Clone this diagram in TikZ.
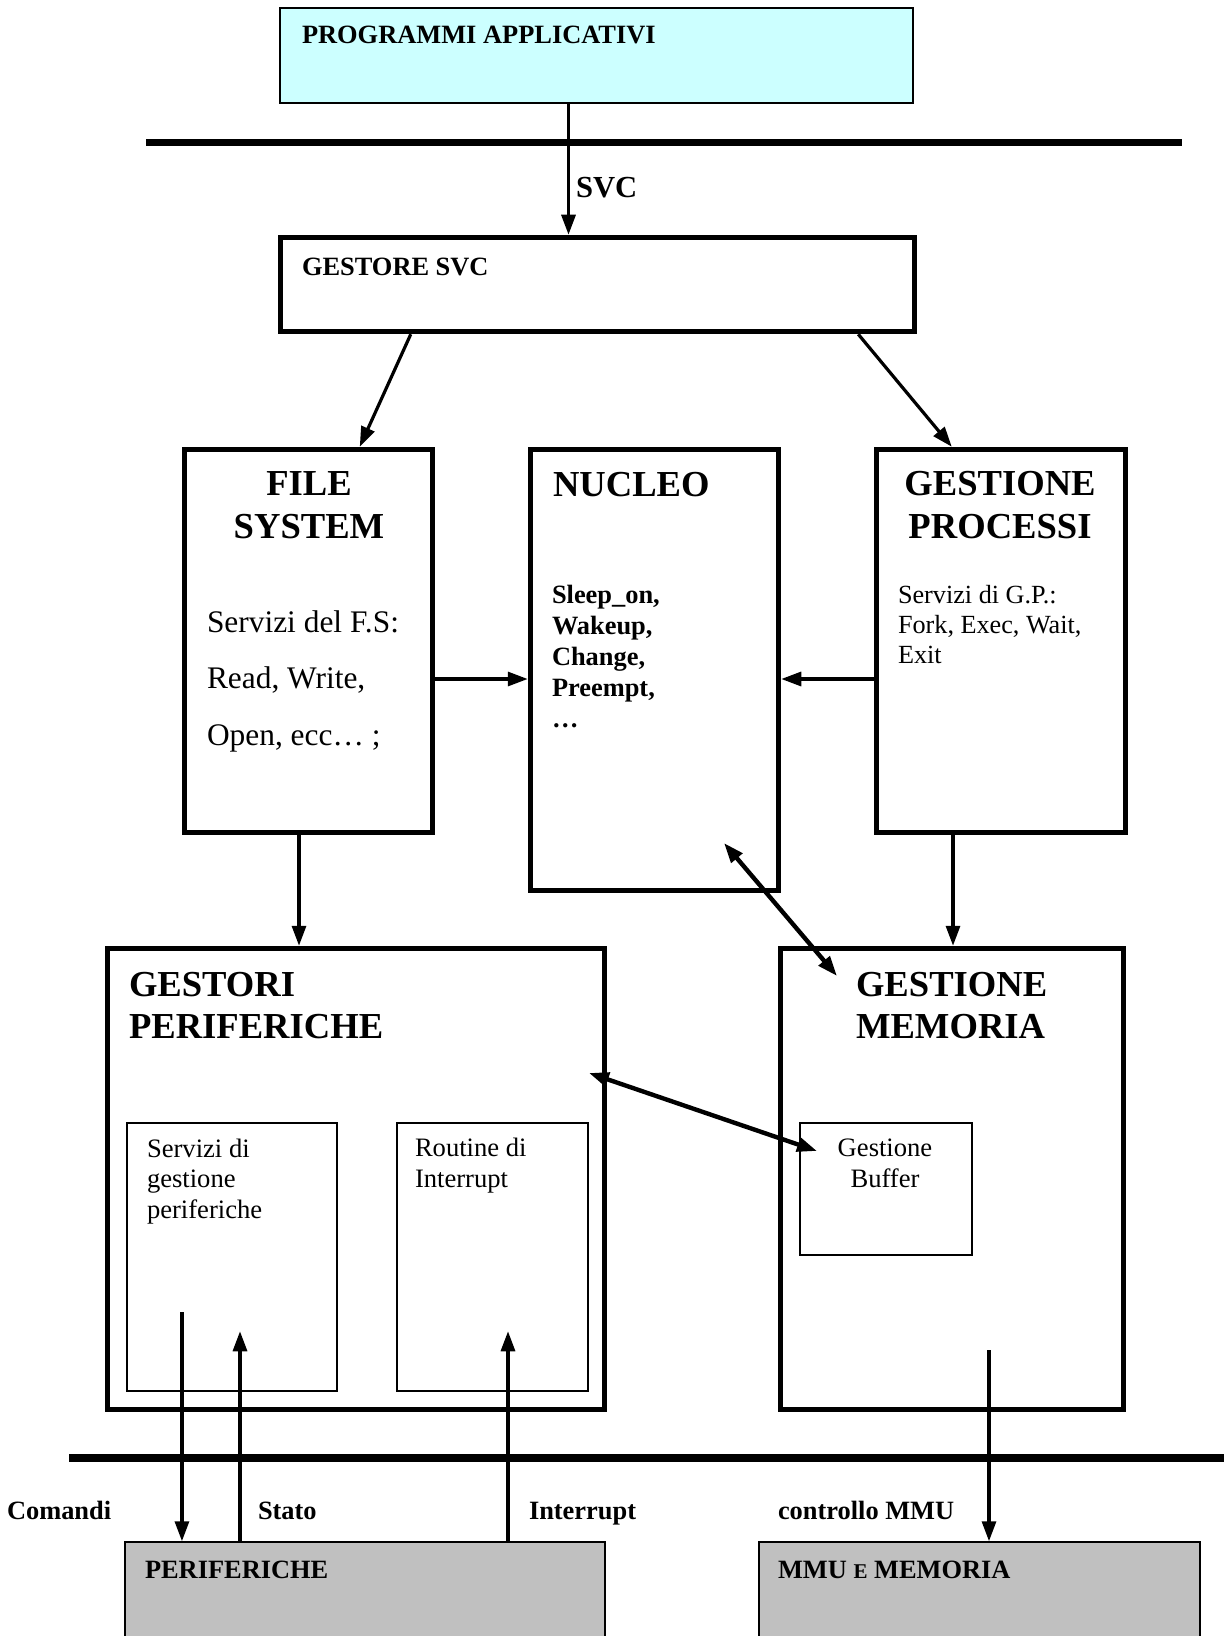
\documentclass[tikz,border=0pt]{standalone}
\usepackage{fontspec}
\setmainfont{Liberation Serif}
\usetikzlibrary{arrows.meta}
\definecolor{appcyan}{HTML}{CCFFFF}
\definecolor{hwgray}{HTML}{C0C0C0}
\newcommand\fsz[2]{\fontsize{#1}{#2}\selectfont}
\begin{document}
\begin{tikzpicture}[x=0.5pt,y=-0.5pt,
  heavybox/.style={draw, line width=2.75pt, inner sep=0pt},
  lightbox/.style={draw, line width=0.75pt, inner sep=0pt},
  subbox/.style={draw, line width=1pt, inner sep=0pt},
  txt/.style={inner sep=0pt, outer sep=0pt, anchor=base west, align=left},
  lbl/.style={txt, font=\bfseries\fsz{13.2}{15}},
  title/.style={inner sep=0pt, outer sep=0pt, font=\bfseries\fsz{18.3}{21}},
  busline/.style={line width=3.75pt},
  arr/.style={line width=1.6pt, -{Triangle[length=10pt,width=7pt]}},
  darr/.style={line width=2.2pt, {Triangle[length=10pt,width=7pt]}-{Triangle[length=10pt,width=7pt]}}
]
\clip (0,0) rectangle (1224,1636);

% --- layer boundaries ---
\draw[busline] (146,142.5) -- (1182,142.5);
\draw[busline] (69,1458) -- (1230,1458);

% --- boxes ---
\node[lightbox, fill=appcyan, minimum width=316.5pt, minimum height=47.5pt] (prog) at (596.5,55.5) {};
\node[heavybox, minimum width=317pt, minimum height=47pt] (gsvc) at (597.5,284.5) {};
\node[heavybox, minimum width=124pt, minimum height=191.5pt] (fs) at (308.5,641) {};
\node[heavybox, minimum width=124pt, minimum height=220.5pt] (nuc) at (654.5,670) {};
\node[heavybox, minimum width=124.5pt, minimum height=191.5pt] (gp) at (1001,641) {};
\node[heavybox, minimum width=248.5pt, minimum height=230.5pt] (gper) at (356,1179) {};
\node[heavybox, minimum width=171.5pt, minimum height=230.5pt] (gmem) at (952,1179) {};
\node[subbox, minimum width=105pt, minimum height=134pt] (inA) at (231.75,1256.5) {};
\node[subbox, minimum width=95.5pt, minimum height=134pt] (inB) at (492,1256.5) {};
\node[subbox, minimum width=86pt, minimum height=66pt] (buf) at (885.5,1188.5) {};
\node[lightbox, fill=hwgray, minimum width=240pt, minimum height=54pt] (perif) at (365,1596) {};
\node[lightbox, fill=hwgray, minimum width=220.5pt, minimum height=54pt] (mmu) at (979.5,1596) {};

% --- texts (multi-line nodes sit on the baseline of their last line) ---
\node[lbl] (progT) at (302,44) {PROGRAMMI APPLICATIVI};
\node[txt, font=\bfseries\fsz{15.3}{18}] (svcT) at (576,198) {SVC};
\node[lbl] (gsvcT) at (302,276) {GESTORE SVC};

\node[title, anchor=base, align=center] (fsT) at (309,538) {FILE\\SYSTEM};
\node[title, anchor=base west, align=left] (nucT) at (553,496) {NUCLEO};
\node[title, anchor=base, align=center] (gpT) at (1000,538) {GESTIONE\\PROCESSI};
\node[title, anchor=base west, align=left] (gperT) at (129,1038) {GESTORI\\PERIFERICHE};
\node[title, anchor=base west, align=left] (gmemT) at (856,1038) {GESTIONE\\MEMORIA};

\node[txt, font=\fsz{15.7}{28.25}] (fsS) at (207,745) {Servizi del F.S:\\Read, Write,\\Open, ecc… ;};
\node[txt, font=\bfseries\fsz{13.2}{15.5}] (nucS) at (552,727) {Sleep\_on,\\Wakeup,\\Change,\\Preempt,\\…};
\node[txt, font=\fsz{13.1}{15}] (gpS) at (898,663) {Servizi di G.P.:\\Fork, Exec, Wait,\\Exit};

\node[txt, font=\fsz{13.3}{15.25}] (inAT) at (147,1218) {Servizi di\\gestione\\periferiche};
\node[txt, font=\fsz{13.3}{15.25}] (inBT) at (415,1187) {Routine di\\Interrupt};
\node[txt, anchor=base, align=center, font=\fsz{13.3}{15.25}] (bufT) at (885,1187) {Gestione\\Buffer};

\node[lbl] (cmdT) at (7,1519) {Comandi};
\node[lbl] (statT) at (258,1519) {Stato};
\node[lbl] (intT) at (529,1519) {Interrupt};
\node[lbl] (mmuctlT) at (778,1519) {controllo MMU};
\node[lbl] (perifT) at (145,1578) {PERIFERICHE};
\node[lbl] (mmuT) at (778,1578) {MMU {\fsz{10.5}{12}E} MEMORIA};

% --- connectors ---
\draw[arr] ([xshift=-14pt]prog.south) coordinate (svcA) -- (svcA |- gsvc.north);
\draw[arr] ([xshift=66.5pt]gsvc.south west) -- ([xshift=89pt]fs.north west);
\draw[arr] ([xshift=-29.5pt]gsvc.south east) -- ([xshift=39pt]gp.north west);
\draw[arr] ([yshift=-19pt]fs.east) coordinate (fsN) -- (fsN -| nuc.west);
\draw[arr] ([yshift=-19pt]gp.west) coordinate (gpN) -- (gpN -| nuc.east);
\draw[arr] ([xshift=-4.75pt]fs.south) coordinate (fsD) -- (fsD |- gper.north);
\draw[arr] ([xshift=-24pt]gp.south) coordinate (gpD) -- (gpD |- gmem.north);
\draw[darr] ([xshift=34.75pt,yshift=-86.5pt]nuc.center) -- ([xshift=-57.5pt,yshift=101.5pt]gmem.center);
\draw[darr] ([xshift=116.5pt,yshift=53pt]gper.center) -- ([xshift=-34.25pt,yshift=18.75pt]buf.center);
\draw[arr] ([xshift=-24.9pt,yshift=-27.75pt]inA.center) coordinate (cmdA) -- (cmdA |- perif.north);
\draw[arr] ([xshift=-62.5pt]perif.north) -- ++(0,-210);
\draw[arr] ([xshift=71.5pt]perif.north) -- ++(0,-210);
\draw[arr] ([xshift=18.5pt,yshift=-85.5pt]gmem.center) coordinate (mmuA) -- (mmuA |- mmu.north);
\end{tikzpicture}
\end{document}
